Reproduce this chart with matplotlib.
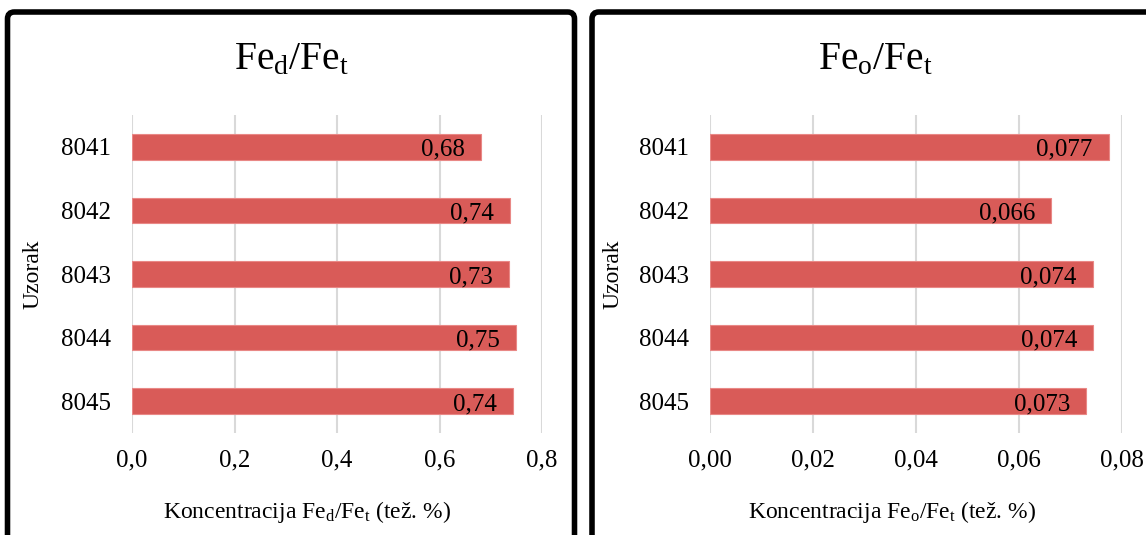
import matplotlib
matplotlib.use("Agg")
import matplotlib.pyplot as plt
from matplotlib.patches import FancyBboxPatch
from matplotlib.ticker import FuncFormatter

plt.rcParams["font.family"] = ["Liberation Serif", "DejaVu Serif"]
plt.rcParams["mathtext.fontset"] = "custom"
plt.rcParams["mathtext.rm"] = "Liberation Serif"
plt.rcParams["mathtext.it"] = "Liberation Serif:italic"

samples = ["8041", "8042", "8043", "8044", "8045"]
fed_fet = [0.681, 0.738, 0.735, 0.749, 0.744]
feo_fet = [0.0774, 0.0663, 0.0743, 0.0744, 0.0730]

left_ticks = [0.0, 0.2, 0.4, 0.6, 0.8]
right_ticks = [0.00, 0.02, 0.04, 0.06, 0.08]

titles = [r"Fe$_\mathrm{d}$/Fe$_\mathrm{t}$", r"Fe$_\mathrm{o}$/Fe$_\mathrm{t}$"]
xlabels = [r"Koncentracija Fe$_\mathrm{d}$/Fe$_\mathrm{t}$ (tež. %)",
           r"Koncentracija Fe$_\mathrm{o}$/Fe$_\mathrm{t}$ (tež. %)"]

BAR = "#d95b58"
GRID = "#d9d9d9"
W, H = 1146, 535

fig = plt.figure(figsize=(W / 100, H / 100), dpi=100)


def px_box(x0, y0, x1, y1):
    return [x0 / W, 1 - y1 / H, (x1 - x0) / W, (y1 - y0) / H]


def comma(decimals):
    return FuncFormatter(lambda v, _: f"{v:.{decimals}f}".replace(".", ","))


panels = [
    dict(vals=fed_fet, ticks=left_ticks, dec_tick=1, dec_lab=2,
         ax=(132, 115, 542, 433), frame=(7.5, 12, 574.5, 560),
         title_x=292, xlabel_x=307, ylabel_x=33),
    dict(vals=feo_fet, ticks=right_ticks, dec_tick=2, dec_lab=3,
         ax=(710, 115, 1122, 433), frame=(592, 12, 1160, 560),
         title_x=876, xlabel_x=892, ylabel_x=613),
]

for p, title, xlabel in zip(panels, titles, xlabels):
    x0, y0, x1, y1 = p["frame"]
    frame = FancyBboxPatch((x0 / W, 1 - y1 / H), (x1 - x0) / W, (y1 - y0) / H,
                           boxstyle="round,pad=0,rounding_size=0.006",
                           transform=fig.transFigure, fill=False,
                           edgecolor="black", linewidth=4.0, clip_on=False,
                           mutation_aspect=W / H)
    fig.patches.append(frame)

    ax = fig.add_axes(px_box(*p["ax"]))
    ypos = list(range(len(samples)))
    ax.barh(ypos, p["vals"], height=0.4, color=BAR,
            edgecolor="#e98886", linewidth=0.8, zorder=3)
    ax.set_ylim(len(samples) - 0.5, -0.5)
    ax.set_xlim(p["ticks"][0], p["ticks"][-1])
    ax.set_xticks(p["ticks"])
    ax.xaxis.set_major_formatter(comma(p["dec_tick"]))
    ax.set_yticks(ypos)
    ax.set_yticklabels(samples)
    ax.grid(axis="x", color=GRID, linewidth=1.5, zorder=0)
    ax.set_axisbelow(True)
    for s in ax.spines.values():
        s.set_visible(False)
    ax.tick_params(axis="both", length=0, labelsize=18)
    ax.tick_params(axis="y", pad=15)
    ax.tick_params(axis="x", pad=12)

    for i, v in enumerate(p["vals"]):
        ax.annotate(f"{v:.{p['dec_lab']}f}".replace(".", ","), xy=(v, i),
                    xytext=(-16, -9), textcoords="offset pixels",
                    ha="right", va="baseline", fontsize=18, zorder=4)

    fig.text(p["title_x"] / W, 1 - 60 / H, title, fontsize=28.5,
             ha="center", va="center")
    fig.text(p["xlabel_x"] / W, 1 - 512 / H, xlabel, fontsize=17,
             ha="center", va="center")
    fig.text(p["ylabel_x"] / W, 1 - 274 / H, "Uzorak", fontsize=17,
             ha="center", va="center", rotation=90)

fig.savefig("out.png", dpi=100, facecolor="white")
